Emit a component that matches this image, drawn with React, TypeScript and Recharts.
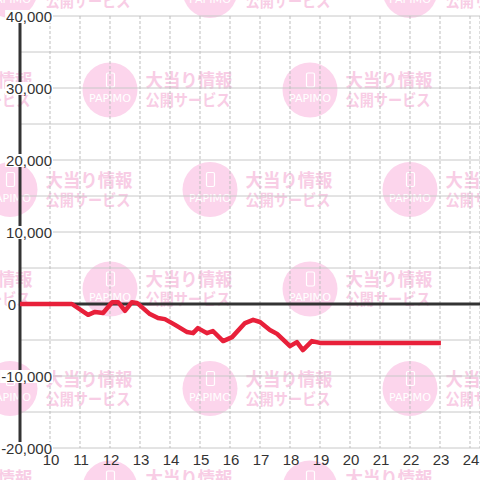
import React from "react";
import { LineChart, Line, XAxis, YAxis, CartesianGrid, ReferenceLine } from "recharts";

const hours = [9.0, 10.73, 11.27, 11.5, 11.77, 12.07, 12.27, 12.5, 12.73, 12.9, 13.33, 13.6, 13.83, 14.17, 14.57, 14.77, 14.93, 15.23, 15.43, 15.77, 16.07, 16.5, 16.77, 17.0, 17.33, 17.57, 18.0, 18.23, 18.43, 18.73, 19.0, 23.03];
const values = [0, 0, -1500, -1100, -1250, 250, 250, -950, 250, 150, -1400, -1950, -2100, -2900, -3900, -4050, -3350, -4050, -3750, -5150, -4600, -2650, -2200, -2500, -3600, -4150, -5850, -5300, -6400, -5150, -5400, -5400];
const xTicks = [10, 11, 12, 13, 14, 15, 16, 17, 18, 19, 20, 21, 22, 23, 24];
const yTicks = [-20000, -15000, -10000, -5000, 0, 5000, 10000, 15000, 20000, 25000, 30000, 35000, 40000];

const data = hours.map((h, i) => ({ x: h, y: values[i] }));

const FONT = "'Liberation Sans', Arial, sans-serif";
const X_DOMAIN: [number, number] = [9, 24.3333];
const Y_DOMAIN: [number, number] = [-20000, 40000];
const MARGIN = { top: 16, right: 0, bottom: 0, left: 0 };

const fmt = (v: number) => v.toLocaleString("en-US");
const textW = (s: string) => {
  let w = 0;
  for (const c of s) w += c === "," ? 4.17 : c === "-" ? 5.0 : 8.34;
  return w;
};

const EmptyTick = () => <g />;

const YTick = (props: any) => {
  const { y, payload } = props;
  const v = payload.value as number;
  if (v % 10000 !== 0) return <g />;
  const label = fmt(v);
  const w = textW(label);
  const endX = v === 0 ? 16 : 52;
  return (
    <g>
      <rect x={endX - w - 1} y={y - 6} width={w + 2} height={13} fill="#ffffff" stroke="none" />
      <text x={endX} y={y + 6} textAnchor="end" fontSize={15} fill="#333" stroke="none" fontFamily={FONT}>
        {label}
      </text>
    </g>
  );
};

const XTick = (props: any) => {
  const { x, payload } = props;
  return (
    <text x={x + 1} y={465} textAnchor="middle" fontSize={15} fill="#333" fontFamily={FONT}>
      {payload.value}
    </text>
  );
};

const Watermark = ({ cx, cy }: { cx: number; cy: number }) => (
  <g>
    <circle cx={cx} cy={cy} r={27.5} fill="#fcd5ec" />
    <rect x={cx - 3.5} y={cy - 17} width={8} height={14} rx={1.5} fill="none" stroke="#ffffff" strokeWidth={1.2} />
    <text x={cx} y={cy + 12} textAnchor="middle" fontSize={11} fill="#ffffff" fontFamily="'DejaVu Sans', sans-serif" textLength={42} lengthAdjust="spacingAndGlyphs">
      PAPIMO
    </text>
    <text x={cx + 35.5} y={cy - 3} fontSize={18} fontWeight="bold" fill="#f8cde5" fontFamily="'Noto Sans CJK JP', sans-serif" textLength={87} lengthAdjust="spacingAndGlyphs">
      大当り情報
    </text>
    <text x={cx + 35.5} y={cy + 16} fontSize={15.5} fontWeight="bold" fill="#f8cde5" fontFamily="'Noto Sans CJK JP', sans-serif" textLength={85} lengthAdjust="spacingAndGlyphs">
      公開サービス
    </text>
  </g>
);

const rowYs = [-9.5, 90, 189.5, 289, 388.5, 488];

const Background = () => {
  const items: React.ReactNode[] = [];
  rowYs.forEach((cy, r) => {
    const start = r % 2 === 0 ? 10 : 110;
    for (let cx = start - 200; cx < 520; cx += 200) {
      items.push(<Watermark key={`${r}-${cx}`} cx={cx} cy={cy} />);
    }
  });
  return (
    <svg width={480} height={480} style={{ position: "absolute", left: 0, top: 0 }}>
      <rect x={0} y={0} width={480} height={480} fill="#ffffff" />
      {items}
    </svg>
  );
};

export default function App() {
  return (
    <div style={{ position: "absolute", left: 0, top: 0, width: 480, height: 480, background: "#fff", overflow: "hidden" }}>
      <Background />
      <div style={{ position: "absolute", left: 0, top: 0 }}>
        <LineChart width={480} height={480} data={data} margin={MARGIN}>
          <CartesianGrid horizontal={true} vertical={false} stroke="#c8c8c8" strokeWidth={1} />
          <CartesianGrid horizontal={false} vertical={true} stroke="#bdbdbd" strokeDasharray="3 2" strokeWidth={1} />
          <ReferenceLine x={9} stroke="#333" strokeWidth={3} />
          <ReferenceLine y={0} stroke="#333" strokeWidth={3} />
          <XAxis
            dataKey="x"
            type="number"
            domain={X_DOMAIN}
            ticks={xTicks}
            interval={0}
            axisLine={false}
            tickLine={false}
            tick={<XTick />}
            height={32}
            allowDataOverflow
          />
          <YAxis
            type="number"
            domain={Y_DOMAIN}
            ticks={yTicks}
            interval={0}
            width={20}
            axisLine={false}
            tickLine={false}
            tick={<EmptyTick />}
            allowDataOverflow
          />
          <Line
            dataKey="y"
            type="linear"
            stroke="#e8203a"
            strokeWidth={4.5}
            dot={false}
            strokeLinejoin="round"
            isAnimationActive={false}
          />
        </LineChart>
      </div>
      <div style={{ position: "absolute", left: 0, top: 0 }}>
        <LineChart width={480} height={480} data={data} margin={MARGIN}>
          <XAxis
            dataKey="x"
            type="number"
            domain={X_DOMAIN}
            ticks={xTicks}
            interval={0}
            axisLine={false}
            tickLine={false}
            tick={false}
            height={32}
            allowDataOverflow
          />
          <YAxis
            type="number"
            domain={Y_DOMAIN}
            ticks={yTicks}
            interval={0}
            width={20}
            axisLine={false}
            tickLine={false}
            tick={<YTick />}
            allowDataOverflow
          />
        </LineChart>
      </div>
    </div>
  );
}
